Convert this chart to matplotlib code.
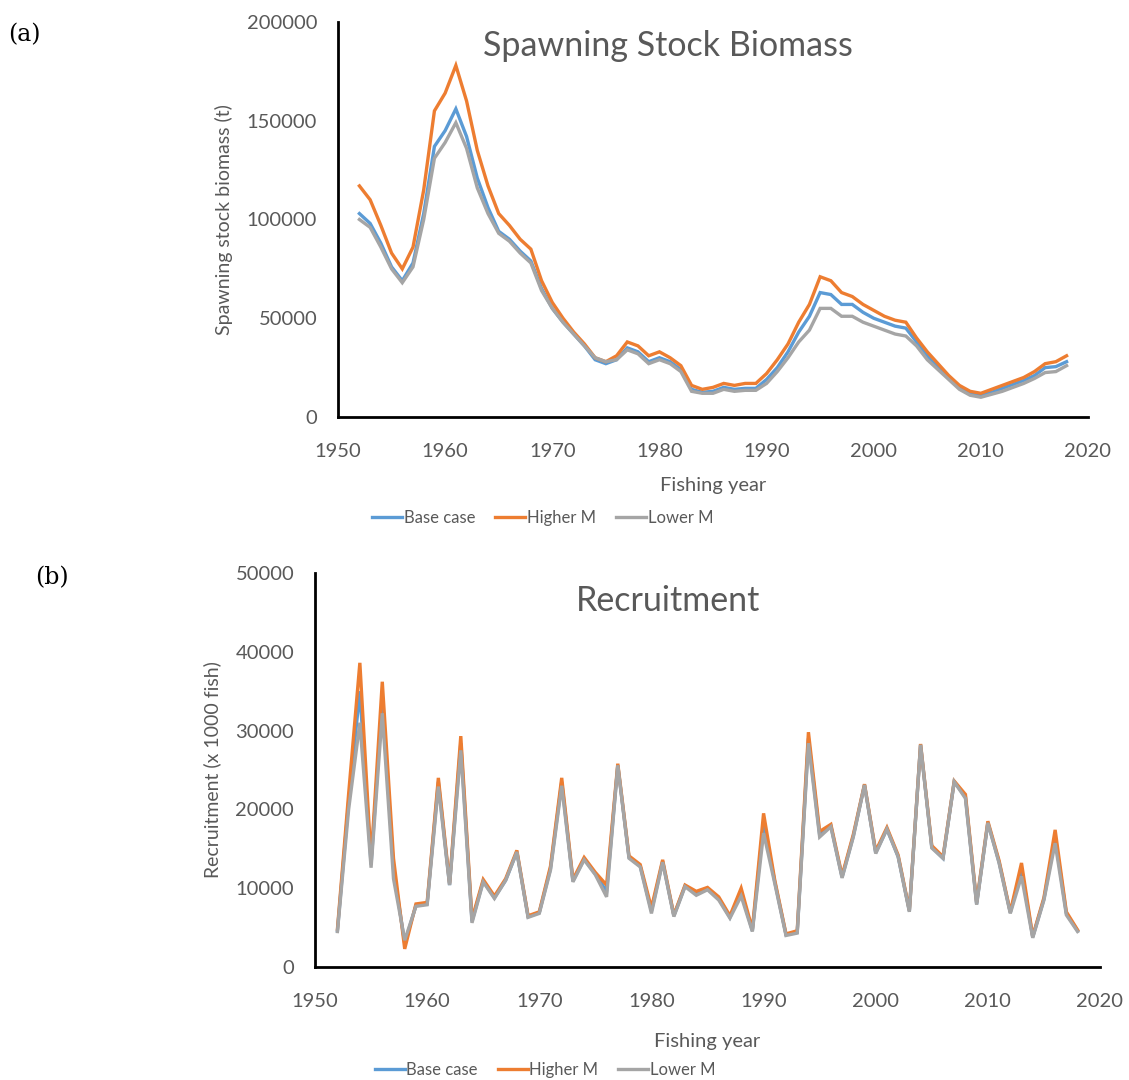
import matplotlib.pyplot as plt
import numpy as np

years = np.arange(1952, 2019)

# spawning stock biomass (t)
ssb_base = np.array([103, 98, 88, 76, 69, 78, 103, 137, 145, 156, 142, 121, 106, 94, 90, 84, 79, 65, 55, 48,
                     42, 36, 29, 27, 29, 35, 33, 28, 30, 28, 24, 14, 12.5, 13, 15, 14, 14.5, 14.5, 19, 25,
                     33, 43, 51, 63, 62, 57, 57, 53, 50, 48, 46, 45, 38, 31, 25, 20, 15, 12, 11, 12.5,
                     14.5, 16.5, 18.5, 21, 25, 25.5, 28]) * 1000
ssb_high = np.array([117, 110, 97, 83, 75, 86, 115, 155, 164, 178, 160, 135, 117, 103, 97, 90, 85, 69, 58, 50,
                     43, 37, 30, 28, 31, 38, 36, 31, 33, 30, 26, 16, 14, 15, 17, 16, 17, 17, 22, 29,
                     37, 48, 57, 71, 69, 63, 61, 57, 54, 51, 49, 48, 40, 33, 27, 21, 16, 13, 12, 14,
                     16, 18, 20, 23, 27, 28, 31]) * 1000
ssb_low = np.array([100, 96, 86, 75, 68, 76, 100, 131, 139, 149, 136, 116, 103, 93, 89, 83, 78, 64, 55, 48,
                    42, 36, 30, 28, 29, 34, 32, 27, 29, 27, 23, 13, 12, 12, 14, 13, 13.5, 13.5, 17, 23,
                    30, 38, 44, 55, 55, 51, 51, 48, 46, 44, 42, 41, 36, 29, 24, 19, 14, 11, 10, 11.5,
                    13, 15, 17, 19.5, 22.5, 23, 26]) * 1000

# recruitment (x 1000 fish)
rec_base = np.array([4.6, 21, 35, 13, 34, 12.5, 3, 7.8, 8, 23.5, 10.4, 28.4, 5.8, 10.9, 8.8, 11, 14.6, 6.4, 6.9, 12.5,
                     23.5, 10.9, 13.7, 11.8, 9.6, 25.6, 13.9, 12.8, 7.1, 13.4, 6.5, 10.3, 9.3, 9.9, 8.7, 6.3, 9.5, 4.6, 18.3, 10.8,
                     4.1, 4.4, 29, 16.8, 17.9, 11.4, 16.6, 23.1, 14.5, 17.5, 14, 7.1, 28.2, 15.2, 13.8, 23.5, 21.6, 8, 18.3, 13.3,
                     6.9, 12.4, 3.8, 8.6, 16.5, 6.8, 4.6]) * 1000
rec_high = np.array([4.8, 22, 38.6, 13.5, 36.2, 13.8, 2.3, 8, 8.2, 24, 10.6, 29.3, 6.1, 11.1, 9, 11.2, 14.8, 6.5, 7, 12.8,
                     24, 11.1, 13.9, 12, 10.4, 25.8, 14.1, 13, 7.5, 13.6, 6.6, 10.4, 9.6, 10.1, 8.9, 6.5, 10, 4.8, 19.5, 11,
                     4.2, 4.6, 29.8, 17.2, 18.1, 11.6, 16.8, 23.2, 14.7, 17.7, 14.2, 7.2, 28.3, 15.4, 14, 23.6, 21.9, 8.2, 18.5, 13.5,
                     7, 13.2, 3.9, 8.8, 17.4, 7, 4.7]) * 1000
rec_low = np.array([4.5, 20, 31, 12.6, 32.2, 11.2, 3.4, 7.7, 7.9, 22.9, 10.4, 27.5, 5.6, 10.8, 8.7, 11, 14.6, 6.3, 6.8, 12.3,
                    23, 10.8, 13.6, 11.7, 8.9, 25.6, 13.8, 12.7, 6.8, 13.3, 6.4, 10.2, 9.1, 9.8, 8.5, 6.2, 9, 4.5, 17, 10.6,
                    4, 4.3, 28.4, 16.5, 17.8, 11.3, 16.5, 23.1, 14.4, 17.5, 14, 7, 28.2, 15.1, 13.8, 23.5, 21.4, 7.9, 18.3, 13.2,
                    6.8, 11.5, 3.7, 8.5, 15.7, 6.6, 4.5]) * 1000

names = ['Base case', 'Higher M', 'Lower M']
colors = ['#5B9BD5', '#ED7D31', '#A5A5A5']
grey = '#595959'

plt.rcParams['font.family'] = ['Lato', 'DejaVu Sans']

fig = plt.figure(figsize=(11.29, 10.8), dpi=100)
ax1 = fig.add_axes([338 / 1129, 1 - 417 / 1080, 750 / 1129, 395 / 1080])
ax2 = fig.add_axes([315 / 1129, 1 - 967 / 1080, 785 / 1129, 394 / 1080])


def style(ax, ymax, ystep, ylabel, title, tx, ty, lx, ly, xpad):
    ax.set_xlim(1950, 2020)
    ax.set_ylim(0, ymax)
    ax.set_xticks(range(1950, 2021, 10))
    ax.set_yticks(range(0, ymax + 1, ystep))
    for s in ['top', 'right']:
        ax.spines[s].set_visible(False)
    for s in ['left', 'bottom']:
        ax.spines[s].set_linewidth(2)
        ax.spines[s].set_color('black')
    ax.tick_params(length=0, labelsize=14.5, labelcolor=grey)
    ax.tick_params(axis='x', pad=19)
    ax.tick_params(axis='y', pad=15)
    ax.set_ylabel(ylabel, fontsize=14, color=grey, labelpad=10)
    ax.set_xlabel('Fishing year', fontsize=14.5, color=grey, labelpad=xpad)
    ax.text(tx, ty, title, transform=ax.transAxes, fontsize=24.5, color=grey, ha='center', va='center')
    leg = ax.legend(loc='center', bbox_to_anchor=(lx, ly), ncol=3, frameon=False,
                    fontsize=12, handlelength=1.8, handletextpad=0.1, columnspacing=1.2)
    for t in leg.get_texts():
        t.set_color(grey)


for data, ax in [((ssb_base, ssb_high, ssb_low), ax1), ((rec_base, rec_high, rec_low), ax2)]:
    for y, n, c in zip(data, names, colors):
        ax.plot(years, y, color=c, lw=2.4, label=n, solid_joinstyle='miter')

style(ax1, 200000, 50000, 'Spawning stock biomass (t)', 'Spawning Stock Biomass', 0.44, 0.94, 0.273, -0.256, 12)
style(ax2, 50000, 10000, 'Recruitment (x 1000 fish)', 'Recruitment', 0.45, 0.93, 0.293, -0.261, 16)

fig.text(8 / 1129, 1 - 35 / 1080, '(a)', family='DejaVu Serif', fontsize=17, va='center')
fig.text(35 / 1129, 1 - 578 / 1080, '(b)', family='DejaVu Serif', fontsize=17, va='center')

plt.savefig('out.png', dpi=100)
